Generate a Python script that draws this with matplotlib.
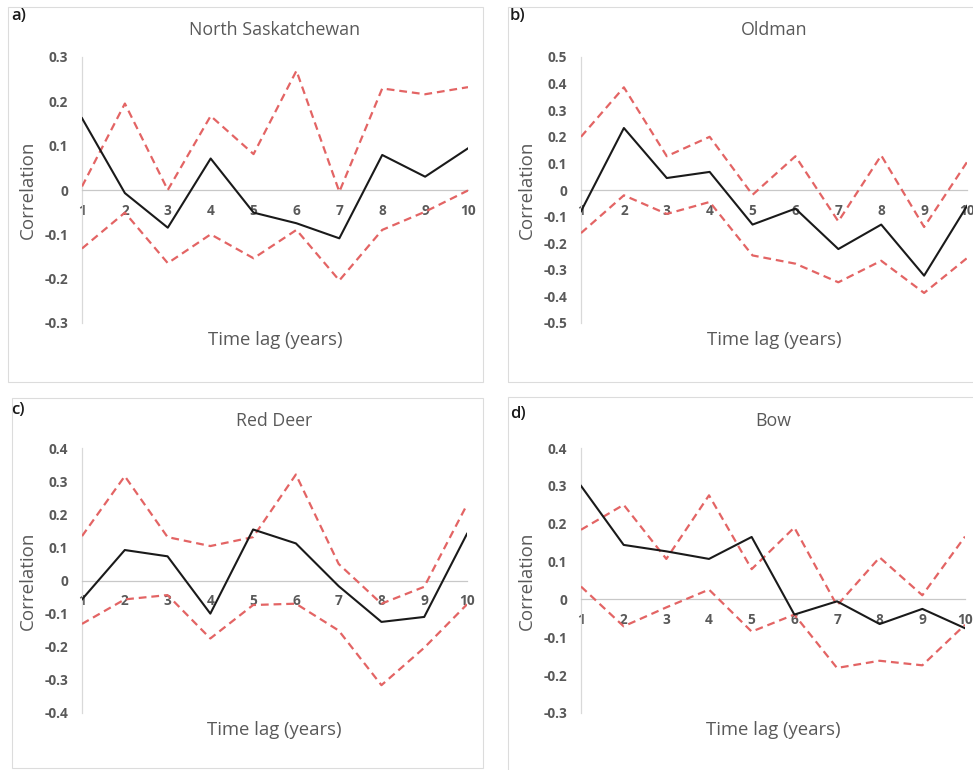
import matplotlib
matplotlib.use("Agg")
import matplotlib.pyplot as plt
from matplotlib.patches import Rectangle

plt.rcParams['font.family'] = ['Open Sans', 'DejaVu Sans']

lags = list(range(1, 11))
lag_labels = [str(v) for v in lags]

titles = ["North Saskatchewan", "Oldman", "Red Deer", "Bow"]
panel_letters = ["a)", "b)", "c)", "d)"]

ns_corr = [0.162, -0.007, -0.085, 0.071, -0.051, -0.075, -0.109, 0.079, 0.030, 0.094]
ns_upper = [0.008, 0.195, 0.000, 0.167, 0.081, 0.269, -0.004, 0.229, 0.216, 0.232]
ns_lower = [-0.132, -0.051, -0.165, -0.100, -0.154, -0.090, -0.204, -0.090, -0.049, -0.001]

old_corr = [-0.080, 0.233, 0.045, 0.068, -0.130, -0.070, -0.222, -0.130, -0.322, -0.060]
old_upper = [0.200, 0.386, 0.127, 0.200, -0.018, 0.127, -0.118, 0.130, -0.139, 0.105]
old_lower = [-0.162, -0.020, -0.090, -0.045, -0.246, -0.277, -0.347, -0.266, -0.387, -0.256]

rd_corr = [-0.057, 0.092, 0.073, -0.100, 0.154, 0.112, -0.017, -0.125, -0.110, 0.141]
rd_upper = [0.134, 0.315, 0.131, 0.104, 0.131, 0.320, 0.050, -0.070, -0.019, 0.229]
rd_lower = [-0.131, -0.057, -0.044, -0.175, -0.074, -0.070, -0.151, -0.316, -0.203, -0.072]

bow_corr = [0.300, 0.144, 0.127, 0.107, 0.165, -0.040, -0.005, -0.065, -0.025, -0.076]
bow_upper = [0.184, 0.250, 0.107, 0.275, 0.080, 0.190, -0.016, 0.111, 0.011, 0.166]
bow_lower = [0.034, -0.071, -0.021, 0.026, -0.085, -0.040, -0.181, -0.162, -0.174, -0.067]

ylims = [(-0.3, 0.3), (-0.5, 0.5), (-0.4, 0.4), (-0.3, 0.4)]
yticks = [
    [-0.3, -0.2, -0.1, 0, 0.1, 0.2, 0.3],
    [-0.5, -0.4, -0.3, -0.2, -0.1, 0, 0.1, 0.2, 0.3, 0.4, 0.5],
    [-0.4, -0.3, -0.2, -0.1, 0, 0.1, 0.2, 0.3, 0.4],
    [-0.3, -0.2, -0.1, 0, 0.1, 0.2, 0.3, 0.4],
]
series = [
    (ns_corr, ns_upper, ns_lower),
    (old_corr, old_upper, old_lower),
    (rd_corr, rd_upper, rd_lower),
    (bow_corr, bow_upper, bow_lower),
]

W, H = 973, 770
fig = plt.figure(figsize=(W / 100, H / 100), dpi=100)

# axes rectangles in pixel coords (left, right, top, bottom)
ax_px = [(82, 468, 57, 323), (581, 967, 57, 323), (82, 467, 448, 713), (581, 965, 448, 713)]
# panel frames (x0, x1, y0, y1) in pixels
frames = [(8, 483, 7, 382), (508, 990, 7, 382), (12, 483, 398, 768), (508, 990, 397, 790)]
letter_pos = [(11, 16), (510, 16), (11, 410), (510, 414)]

for (x0, x1, y0, y1) in frames:
    fig.patches.append(Rectangle((x0 / W, 1 - y1 / H), (x1 - x0) / W, (y1 - y0) / H,
                                 transform=fig.transFigure, fill=False,
                                 edgecolor='#dcdcdc', linewidth=0.8))

tick_color = '#595959'
red = '#e36464'

for i in range(4):
    l, r, t, b = ax_px[i]
    ax = fig.add_axes([l / W, 1 - b / H, (r - l) / W, (b - t) / H])
    ax.patch.set_alpha(0)
    corr, up, lo = series[i]
    ax.plot(lags, up, color=red, linestyle=(0, (3.5, 2.2)), linewidth=1.6, zorder=3)
    ax.plot(lags, lo, color=red, linestyle=(0, (3.5, 2.2)), linewidth=1.6, zorder=3)
    ax.plot(lags, corr, color='#1a1a1a', linewidth=1.5, zorder=4)
    ax.set_xlim(1, 10)
    ax.set_ylim(*ylims[i])
    ax.set_yticks(yticks[i])
    ax.set_yticklabels(['0' if v == 0 else f"{v:.1f}" for v in yticks[i]])
    ax.set_xticks(lags)
    ax.set_xticklabels(lag_labels)
    for s in ['top', 'right']:
        ax.spines[s].set_visible(False)
    ax.spines['bottom'].set_position(('data', 0))
    ax.spines['bottom'].set_color('#c8c8c8')
    ax.spines['bottom'].set_linewidth(0.9)
    ax.spines['left'].set_color('#d9d9d9')
    ax.spines['left'].set_linewidth(0.9)
    ax.tick_params(axis='both', length=0, labelsize=9.8, colors=tick_color)
    ax.tick_params(axis='y', pad=10)
    ax.tick_params(axis='x', pad=10)
    for lab in ax.get_xticklabels() + ax.get_yticklabels():
        lab.set_fontweight('bold')
    ax.set_ylabel("Correlation", fontsize=13.5, color=tick_color, labelpad=5)
    ax.annotate("Time lag (years)", xy=(0.5, 0), xycoords='axes fraction',
                xytext=(0, -12), textcoords='offset points', ha='center', va='center',
                fontsize=13.3, color=tick_color)
    ax.annotate(titles[i], xy=(0.5, 1), xycoords='axes fraction',
                xytext=(0, 19.5), textcoords='offset points', ha='center', va='center',
                fontsize=12.8, color=tick_color)
    lx, ly = letter_pos[i]
    fig.text(lx / W, 1 - ly / H, panel_letters[i], fontsize=12, color='#1a1a1a',
             ha='left', va='center', fontweight='semibold')

fig.savefig("out.png", dpi=100)
